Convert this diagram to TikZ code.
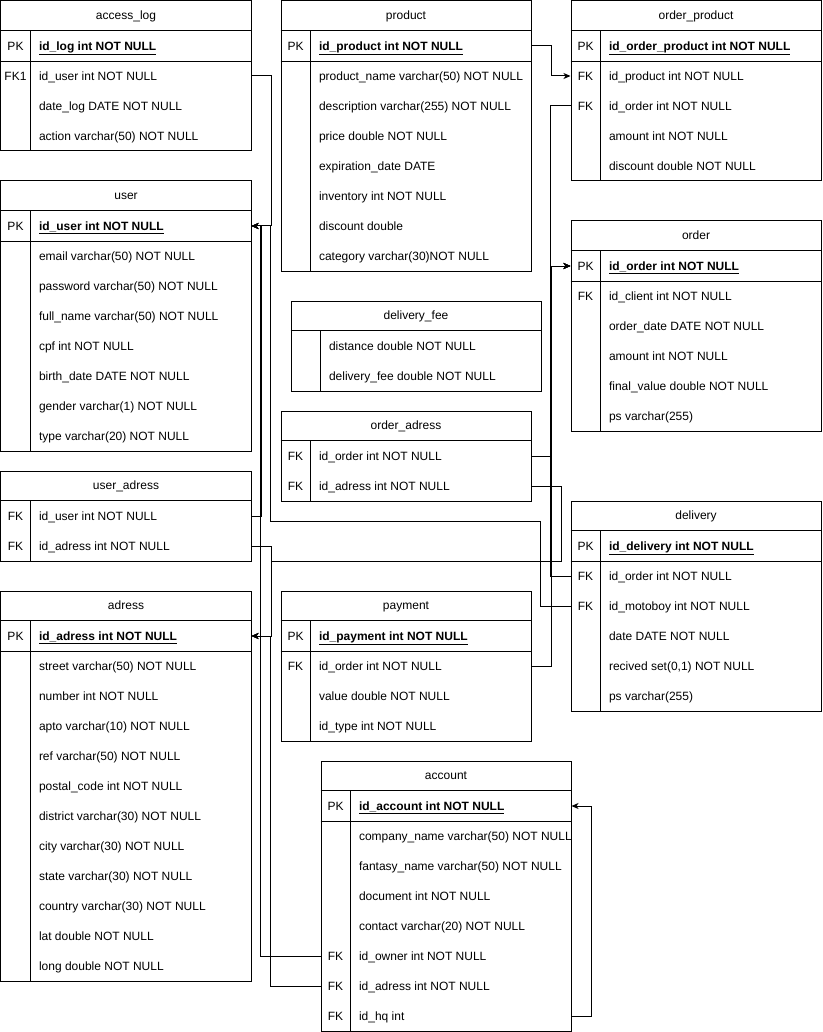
\documentclass[tikz,border=0pt]{standalone}
\usepackage{fontspec}
\setmainfont{Liberation Sans}
\usetikzlibrary{arrows.meta}

% table frame: name, x, y, height, title
\newcommand\ertable[5]{%
  \def\curT{#1}%
  \node[tbl, minimum width=250pt, minimum height=#4pt, anchor=north west] (#1) at (#2,#3) {};
  \node[ttl] (#1-title) at ([yshift=-15pt]#1.north) {#5};
  \draw ([yshift=-30pt]#1.north west) -- ([yshift=-30pt]#1.north east);
  \draw ([xshift=30pt,yshift=-30pt]#1.north west) -- ([xshift=30pt]#1.south west);
}
% one row: index, key, field text
\newcommand\errow[3]{%
  \node[rowc, anchor=north west] (\curT-#1) at ([yshift=-#1*30pt]\curT.north west) {};
  \node[keyt] (\curT-#1-k) at ([xshift=15pt]\curT-#1.west) {#2};
  \node[fldt] (\curT-#1-f) at ([xshift=38pt]\curT-#1.west) {#3};
}
% primary key row (always row 1) with its separator
\newcommand\erpk[1]{%
  \errow{1}{PK}{\textbf{\underline{#1}}}
  \draw (\curT-1.south west) -- (\curT-1.south east);
}

\begin{document}
\begin{tikzpicture}[x=1pt, y=-1pt, line width=1pt,
  tbl/.style={draw, rectangle, inner sep=0pt, fill=white},
  rowc/.style={rectangle, inner sep=0pt, minimum width=250pt, minimum height=30pt},
  txt/.style={inner sep=0pt, font=\fontsize{12}{14}\selectfont, text height=8.6pt, text depth=0pt},
  ttl/.style={txt},
  keyt/.style={txt},
  fldt/.style={txt, anchor=west},
  fk/.style={draw, line width=1pt, -{Stealth[length=7pt,width=6pt,inset=2pt]}},
]
\fill[white] (-0.5,-0.5) rectangle (821.5,1031.5);
\useasboundingbox (-0.5,-0.5) rectangle (821.5,1031.5);

% ---------- left column ----------
\ertable{accesslog}{0}{0}{150}{access\_log}
\erpk{id\_log int NOT NULL}
\errow{2}{FK1}{id\_user int NOT NULL}
\errow{3}{}{date\_log DATE NOT NULL}
\errow{4}{}{action varchar(50) NOT NULL}

\ertable{user}{0}{180}{270}{user}
\erpk{id\_user int NOT NULL}
\errow{2}{}{email varchar(50) NOT NULL}
\errow{3}{}{password varchar(50) NOT NULL}
\errow{4}{}{full\_name varchar(50) NOT NULL}
\errow{5}{}{cpf int NOT NULL}
\errow{6}{}{birth\_date DATE NOT NULL}
\errow{7}{}{gender varchar(1) NOT NULL}
\errow{8}{}{type varchar(20) NOT NULL}

\ertable{useradress}{0}{470}{90}{user\_adress}
\errow{1}{FK}{id\_user int NOT NULL}
\errow{2}{FK}{id\_adress int NOT NULL}

\ertable{adress}{0}{590}{390}{adress}
\erpk{id\_adress int NOT NULL}
\errow{2}{}{street varchar(50) NOT NULL}
\errow{3}{}{number int NOT NULL}
\errow{4}{}{apto varchar(10) NOT NULL}
\errow{5}{}{ref varchar(50) NOT NULL}
\errow{6}{}{postal\_code int NOT NULL}
\errow{7}{}{district varchar(30) NOT NULL}
\errow{8}{}{city varchar(30) NOT NULL}
\errow{9}{}{state varchar(30) NOT NULL}
\errow{10}{}{country varchar(30) NOT NULL}
\errow{11}{}{lat double NOT NULL}
\errow{12}{}{long double NOT NULL}

% ---------- middle column ----------
\ertable{product}{280}{0}{270}{product}
\erpk{id\_product int NOT NULL}
\errow{2}{}{product\_name varchar(50) NOT NULL}
\errow{3}{}{description varchar(255) NOT NULL}
\errow{4}{}{price double NOT NULL}
\errow{5}{}{expiration\_date DATE}
\errow{6}{}{inventory int NOT NULL}
\errow{7}{}{discount double}
\errow{8}{}{category varchar(30)NOT NULL}

\ertable{deliveryfee}{290}{300}{90}{delivery\_fee}
\errow{1}{}{distance double NOT NULL}
\errow{2}{}{delivery\_fee double NOT NULL}

\ertable{orderadress}{280}{410}{90}{order\_adress}
\errow{1}{FK}{id\_order int NOT NULL}
\errow{2}{FK}{id\_adress int NOT NULL}

\ertable{payment}{280}{590}{150}{payment}
\erpk{id\_payment int NOT NULL}
\errow{2}{FK}{id\_order int NOT NULL}
\errow{3}{}{value double NOT NULL}
\errow{4}{}{id\_type int NOT NULL}

\ertable{account}{320}{760}{270}{account}
\erpk{id\_account int NOT NULL}
\errow{2}{}{company\_name varchar(50) NOT NULL}
\errow{3}{}{fantasy\_name varchar(50) NOT NULL}
\errow{4}{}{document int NOT NULL}
\errow{5}{}{contact varchar(20) NOT NULL}
\errow{6}{FK}{id\_owner int NOT NULL}
\errow{7}{FK}{id\_adress int NOT NULL}
\errow{8}{FK}{id\_hq int}

% ---------- right column ----------
\ertable{orderproduct}{570}{0}{180}{order\_product}
\erpk{id\_order\_product int NOT NULL}
\errow{2}{FK}{id\_product int NOT NULL}
\errow{3}{FK}{id\_order int NOT NULL}
\errow{4}{}{amount int NOT NULL}
\errow{5}{}{discount double NOT NULL}

\ertable{order}{570}{220}{210}{order}
\erpk{id\_order int NOT NULL}
\errow{2}{FK}{id\_client int NOT NULL}
\errow{3}{}{order\_date DATE NOT NULL}
\errow{4}{}{amount int NOT NULL}
\errow{5}{}{final\_value double NOT NULL}
\errow{6}{}{ps varchar(255)}

\ertable{delivery}{570}{500}{210}{delivery}
\erpk{id\_delivery int NOT NULL}
\errow{2}{FK}{id\_order int NOT NULL}
\errow{3}{FK}{id\_motoboy int NOT NULL}
\errow{4}{}{date DATE NOT NULL}
\errow{5}{}{recived set(0,1) NOT NULL}
\errow{6}{}{ps varchar(255)}

% ---------- foreign keys ----------
% to user.id_user
\draw[fk] (accesslog-2.east) -- ++(20,0) |- (user-1.east);
\draw[fk] (useradress-1.east) -- ++(10,0) |- (user-1.east);
\draw[fk] (delivery-3.west) -- ++(-30,0) -- ++(0,-85) -- ++(-270,0) |- (user-1.east);
\draw[fk] (account-6.west) -- ++(-60,0) |- (user-1.east);
% to adress.id_adress
\draw[fk] (useradress-2.east) -- ++(20,0) |- (adress-1.east);
\draw[fk] (orderadress-2.east) -- ++(30,0) -- ++(0,75) -- ++(-290,0) |- (adress-1.east);
\draw[fk] (account-7.west) -- ++(-50,0) |- (adress-1.east);
% to product.id_product
\draw[fk] (product-1.east) -- ++(20,0) |- (orderproduct-2.west);
% to order.id_order
\draw[fk] (orderproduct-3.west) -- ++(-20,0) |- (order-1.west);
\draw[fk] (orderadress-1.east) -- ++(20,0) |- (order-1.west);
\draw[fk] (delivery-2.west) -- ++(-20,0) |- (order-1.west);
\draw[fk] (payment-2.east) -- ++(20,0) |- (order-1.west);
% headquarters account
\draw[fk] (account-8.east) -- ++(20,0) |- (account-1.east);
\end{tikzpicture}
\end{document}
